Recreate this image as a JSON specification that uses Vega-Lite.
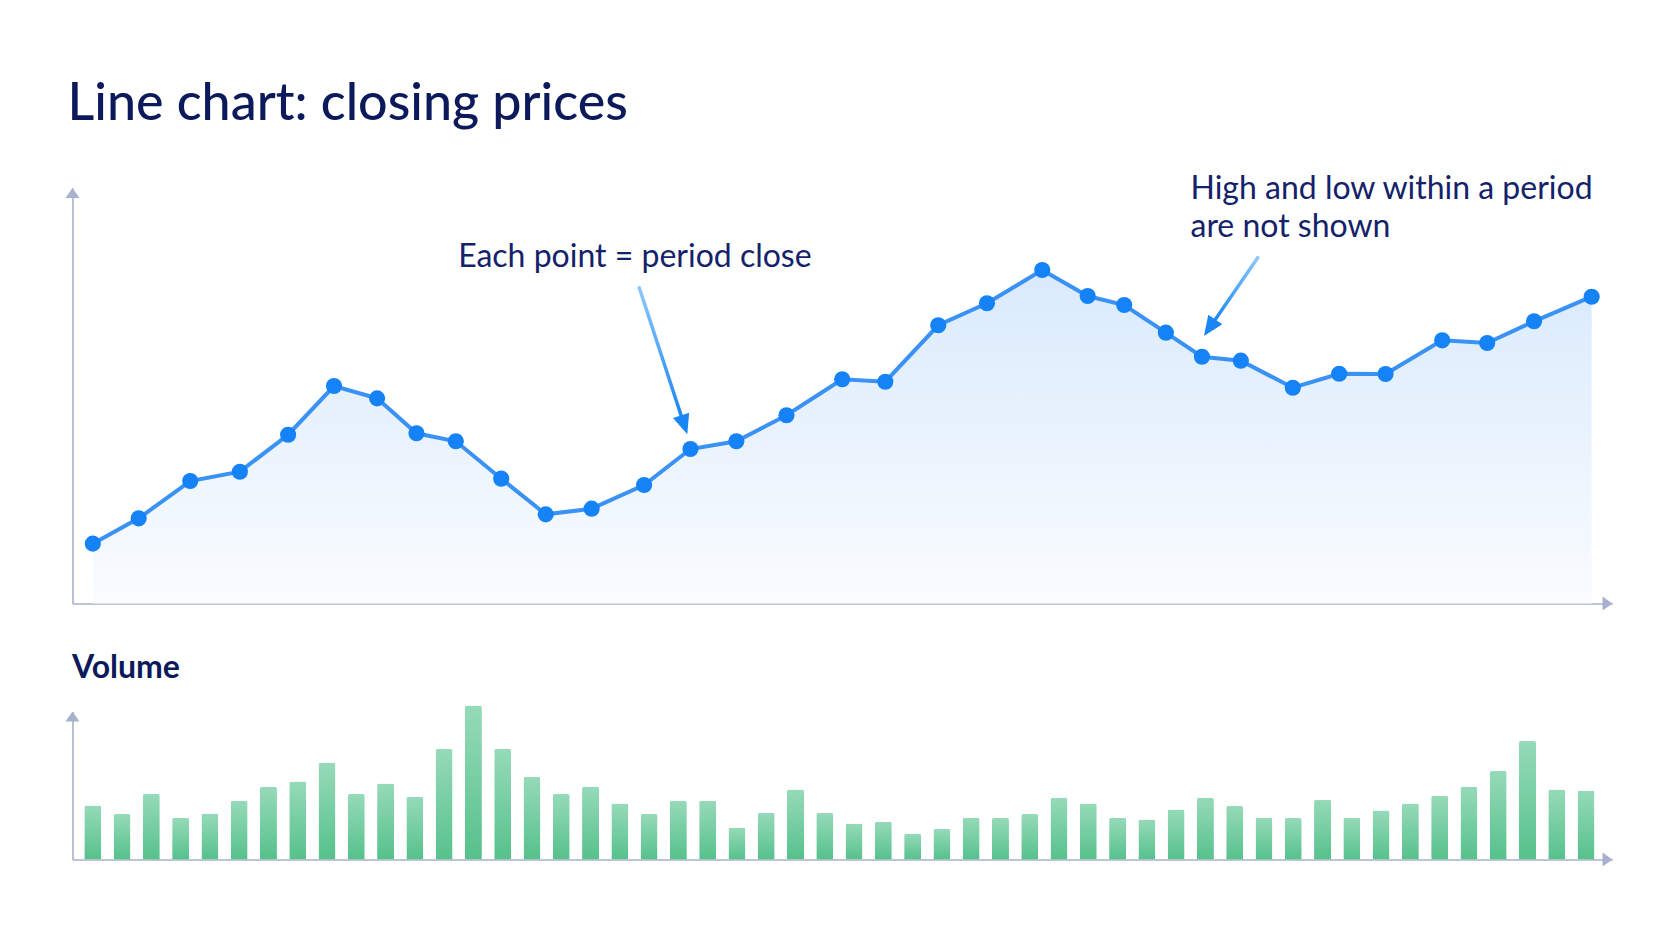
{
  "$schema": "https://vega.github.io/schema/vega-lite/v6.json",
  "background": "#ffffff",
  "padding": {"left": 65.5, "top": 77, "right": 5, "bottom": 5},
  "title": {"text": "Line chart: closing prices", "anchor": "start", "font": "Lato", "fontSize": 52, "fontWeight": 500, "color": "#0c1a5c", "baseline": "alphabetic", "offset": 1.5, "dx": 2},
  "bounds": "flush",
  "spacing": 107.5,
  "config": {
    "view": {"stroke": null},
    "font": "Lato",
    "axis": {"labels": false, "ticks": false, "grid": false, "domainColor": "#a7b1cd", "domainWidth": 1.6}
  },
  "datasets": {
    "prices": [
      {"period": 0, "close": 87.2}, {"period": 0.98, "close": 90.25}, {"period": 2.08, "close": 94.74},
      {"period": 3.14, "close": 95.86}, {"period": 4.17, "close": 100.31}, {"period": 5.15, "close": 106.17},
      {"period": 6.07, "close": 104.69}, {"period": 6.91, "close": 100.48}, {"period": 7.75, "close": 99.52},
      {"period": 8.72, "close": 95.02}, {"period": 9.67, "close": 90.73}, {"period": 10.65, "close": 91.41},
      {"period": 11.77, "close": 94.26}, {"period": 12.76, "close": 98.59}, {"period": 13.74, "close": 99.52},
      {"period": 14.81, "close": 102.65}, {"period": 16.0, "close": 106.98}, {"period": 16.92, "close": 106.69},
      {"period": 18.05, "close": 113.48}, {"period": 19.09, "close": 116.13}, {"period": 20.27, "close": 120.13},
      {"period": 21.24, "close": 117.0}, {"period": 22.02, "close": 115.92}, {"period": 22.91, "close": 112.59},
      {"period": 23.68, "close": 109.7}, {"period": 24.51, "close": 109.22}, {"period": 25.62, "close": 105.97},
      {"period": 26.61, "close": 107.65}, {"period": 27.6, "close": 107.62}, {"period": 28.81, "close": 111.67},
      {"period": 29.77, "close": 111.35}, {"period": 30.77, "close": 113.96}, {"period": 32.0, "close": 116.92}
    ],
    "notes": [
      {"period": 7.8, "close": 120.53, "text": "Each point = period close"},
      {"period": 23.435, "close": 128.64, "text": "High and low within a period"},
      {"period": 23.435, "close": 124.1, "text": "are not shown"}
    ],
    "arrows": [
      {"id": 1, "period": 11.667, "close": 118.0, "period2": 12.573, "close2": 102.42},
      {"id": 2, "period": 24.87, "close": 121.61, "period2": 23.941, "close2": 113.98}
    ],
    "tips": [
      {"id": 1, "period": 12.692, "close": 100.36},
      {"id": 2, "period": 23.723, "close": 112.19}
    ],
    "priceAxisEnds": [
      {"dir": "up", "period": -0.4334, "close": 130},
      {"dir": "right", "period": 32.445, "close": 80}
    ],
    "volume": [
      {"i": 1, "vol": 5.40}, {"i": 2, "vol": 4.54}, {"i": 3, "vol": 6.54}, {"i": 4, "vol": 4.17},
      {"i": 5, "vol": 4.60}, {"i": 6, "vol": 5.87}, {"i": 7, "vol": 7.27}, {"i": 8, "vol": 7.80},
      {"i": 9, "vol": 9.67}, {"i": 10, "vol": 6.54}, {"i": 11, "vol": 7.60}, {"i": 12, "vol": 6.27},
      {"i": 13, "vol": 11.04}, {"i": 14, "vol": 15.40}, {"i": 15, "vol": 11.04}, {"i": 16, "vol": 8.24},
      {"i": 17, "vol": 6.54}, {"i": 18, "vol": 7.27}, {"i": 19, "vol": 5.60}, {"i": 20, "vol": 4.54},
      {"i": 21, "vol": 5.87}, {"i": 22, "vol": 5.87}, {"i": 23, "vol": 3.17}, {"i": 24, "vol": 4.67},
      {"i": 25, "vol": 7.00}, {"i": 26, "vol": 4.67}, {"i": 27, "vol": 3.60}, {"i": 28, "vol": 3.77},
      {"i": 29, "vol": 2.57}, {"i": 30, "vol": 3.04}, {"i": 31, "vol": 4.17}, {"i": 32, "vol": 4.14},
      {"i": 33, "vol": 4.54}, {"i": 34, "vol": 6.17}, {"i": 35, "vol": 5.60}, {"i": 36, "vol": 4.17},
      {"i": 37, "vol": 4.00}, {"i": 38, "vol": 5.00}, {"i": 39, "vol": 6.17}, {"i": 40, "vol": 5.34},
      {"i": 41, "vol": 4.17}, {"i": 42, "vol": 4.14}, {"i": 43, "vol": 5.97}, {"i": 44, "vol": 4.17},
      {"i": 45, "vol": 4.90}, {"i": 46, "vol": 5.60}, {"i": 47, "vol": 6.34}, {"i": 48, "vol": 7.27},
      {"i": 49, "vol": 8.84}, {"i": 50, "vol": 11.84}, {"i": 51, "vol": 7.00}, {"i": 52, "vol": 6.87}
    ],
    "volAxisEnds": [
      {"dir": "up", "i": 0.307, "vol": 14.8},
      {"dir": "right", "i": 52.903, "vol": 0}
    ]
  },
  "vconcat": [
    {
      "width": 1540,
      "height": 415.5,
      "layer": [
        {
          "data": {"name": "prices"},
          "mark": {"type": "area", "color": {"gradient": "linear", "x1": 0, "y1": 0, "x2": 0, "y2": 1, "stops": [{"offset": 0, "color": "#d9eafc"}, {"offset": 1, "color": "#fafcff"}]}},
          "encoding": {
            "x": {"field": "period", "type": "quantitative", "title": null, "scale": {"domain": [-0.4334, 32.445], "nice": false, "zero": false}},
            "y": {"field": "close", "type": "quantitative", "title": null, "scale": {"domain": [80, 130], "nice": false, "zero": false}},
            "y2": {"datum": 80}
          }
        },
        {
          "data": {"name": "prices"},
          "mark": {"type": "line", "color": "#3a92f4", "strokeWidth": 4},
          "encoding": {
            "x": {"field": "period", "type": "quantitative", "title": null},
            "y": {"field": "close", "type": "quantitative", "title": null}
          }
        },
        {
          "data": {"name": "prices"},
          "mark": {"type": "point", "filled": true, "size": 260, "color": "#1582f6", "opacity": 1},
          "encoding": {
            "x": {"field": "period", "type": "quantitative", "title": null},
            "y": {"field": "close", "type": "quantitative", "title": null}
          }
        },
        {
          "data": {"name": "arrows"},
          "mark": {"type": "rule", "strokeWidth": 3.5, "strokeCap": "round", "color": {"gradient": "linear", "x1": 0, "y1": 0, "x2": 0, "y2": 1, "stops": [{"offset": 0, "color": "#8cc8fb"}, {"offset": 1, "color": "#1a86f3"}]}},
          "encoding": {
            "x": {"field": "period", "type": "quantitative", "title": null},
            "y": {"field": "close", "type": "quantitative", "title": null},
            "x2": {"field": "period2"},
            "y2": {"field": "close2"}
          }
        },
        {
          "data": {"name": "tips"},
          "transform": [{"filter": "datum.id == 1"}],
          "mark": {"type": "point", "shape": "M0,0L0.85,2L-0.85,2Z", "size": 400, "filled": true, "opacity": 1, "color": "#1a86f3", "angle": 161.9},
          "encoding": {
            "x": {"field": "period", "type": "quantitative", "title": null},
            "y": {"field": "close", "type": "quantitative", "title": null}
          }
        },
        {
          "data": {"name": "tips"},
          "transform": [{"filter": "datum.id == 2"}],
          "mark": {"type": "point", "shape": "M0,0L0.85,2L-0.85,2Z", "size": 400, "filled": true, "opacity": 1, "color": "#1a86f3", "angle": 214.5},
          "encoding": {
            "x": {"field": "period", "type": "quantitative", "title": null},
            "y": {"field": "close", "type": "quantitative", "title": null}
          }
        },
        {
          "data": {"name": "notes"},
          "mark": {"type": "text", "align": "left", "baseline": "alphabetic", "font": "Lato", "fontSize": 32, "color": "#13226a"},
          "encoding": {
            "x": {"field": "period", "type": "quantitative", "title": null},
            "y": {"field": "close", "type": "quantitative", "title": null},
            "text": {"field": "text"}
          }
        },
        {
          "data": {"name": "priceAxisEnds"},
          "transform": [{"filter": "datum.dir == 'up'"}],
          "mark": {"type": "point", "shape": "M0,0L0.7,1L-0.7,1Z", "size": 400, "filled": true, "opacity": 1, "color": "#a7b1cd", "angle": 0},
          "encoding": {
            "x": {"field": "period", "type": "quantitative", "title": null},
            "y": {"field": "close", "type": "quantitative", "title": null}
          }
        },
        {
          "data": {"name": "priceAxisEnds"},
          "transform": [{"filter": "datum.dir == 'right'"}],
          "mark": {"type": "point", "shape": "M0,0L0.7,1L-0.7,1Z", "size": 400, "filled": true, "opacity": 1, "color": "#a7b1cd", "angle": 90},
          "encoding": {
            "x": {"field": "period", "type": "quantitative", "title": null},
            "y": {"field": "close", "type": "quantitative", "title": null}
          }
        }
      ]
    },
    {
      "width": 1540,
      "height": 148,
      "title": {"text": "Volume", "anchor": "start", "font": "Lato", "fontSize": 32, "fontWeight": 700, "color": "#0c1a5c", "baseline": "alphabetic", "offset": -4, "dx": 6.5},
      "layer": [
        {
          "data": {"name": "volume"},
          "mark": {"type": "bar", "width": 17, "cornerRadiusTopLeft": 2, "cornerRadiusTopRight": 2, "color": {"gradient": "linear", "x1": 0, "y1": 0, "x2": 0, "y2": 1, "stops": [{"offset": 0, "color": "#96dab9"}, {"offset": 1, "color": "#56c18b"}]}},
          "encoding": {
            "x": {"field": "i", "type": "quantitative", "title": null, "scale": {"domain": [0.307, 52.903], "nice": false, "zero": false, "padding": 0}},
            "y": {"field": "vol", "type": "quantitative", "title": null, "scale": {"domain": [0, 14.8], "nice": false, "padding": 0}}
          }
        },
        {
          "data": {"name": "volAxisEnds"},
          "transform": [{"filter": "datum.dir == 'up'"}],
          "mark": {"type": "point", "shape": "M0,0L0.7,1L-0.7,1Z", "size": 400, "filled": true, "opacity": 1, "color": "#a7b1cd", "angle": 0},
          "encoding": {
            "x": {"field": "i", "type": "quantitative", "title": null},
            "y": {"field": "vol", "type": "quantitative", "title": null}
          }
        },
        {
          "data": {"name": "volAxisEnds"},
          "transform": [{"filter": "datum.dir == 'right'"}],
          "mark": {"type": "point", "shape": "M0,0L0.7,1L-0.7,1Z", "size": 400, "filled": true, "opacity": 1, "color": "#a7b1cd", "angle": 90},
          "encoding": {
            "x": {"field": "i", "type": "quantitative", "title": null},
            "y": {"field": "vol", "type": "quantitative", "title": null}
          }
        }
      ]
    }
  ]
}
